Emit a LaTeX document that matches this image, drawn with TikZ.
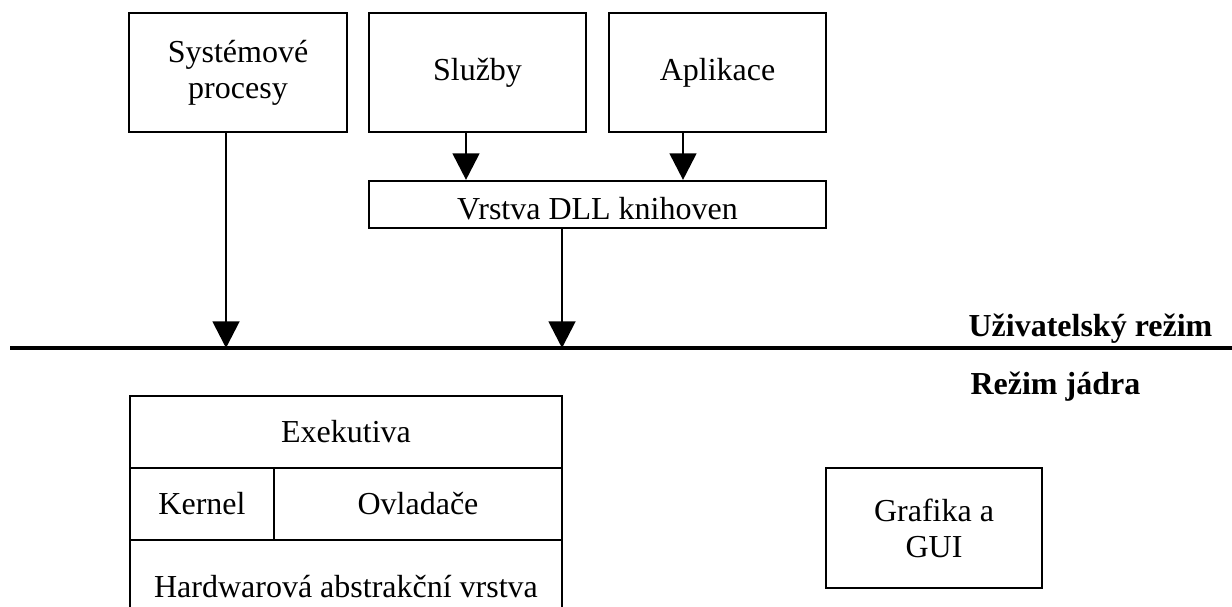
\documentclass[tikz,border=0pt]{standalone}
\usepackage{fontspec}
\setmainfont{Liberation Serif}
\usetikzlibrary{arrows.meta}

\begin{document}
\begin{tikzpicture}[x=0.375pt, y=-0.375pt,
  box/.style={draw, line width=0.8pt, inner sep=0pt, align=center,
    font=\fontsize{12}{13.5}\selectfont},
  arr/.style={line width=1.1pt, -{Triangle[width=10pt, length=10pt]}},
  mode/.style={font=\fontsize{12}{14}\selectfont\bfseries, inner sep=0pt, anchor=base west}]

\useasboundingbox (0,0) rectangle (1232,607);

% User mode boxes
\node[box, minimum width=81.75pt, minimum height=44.625pt] (sysproc) at (238,72.5) {Systémové\\procesy};
\node[box, minimum width=81.375pt, minimum height=44.625pt] (sluzby) at (477.5,72.5) {Služby};
\node[box, minimum width=81.375pt, minimum height=44.625pt] (aplikace) at (717.5,72.5) {Aplikace};
\node[box, minimum width=171.375pt, minimum height=17.625pt, text height=11.6pt, text depth=0pt] (dll) at (597.5,204.5) {Vrstva DLL knihoven};

% Kernel mode boxes
\node[box, minimum width=162pt, minimum height=27pt] (exek) at (346,432) {Exekutiva};
\node[box, minimum width=54pt, minimum height=27pt] (kernel) at (202,504) {Kernel};
\node[box, minimum width=108pt, minimum height=27pt] (ovladace) at (418,504) {Ovladače};
\node[box, minimum width=162pt, minimum height=34.875pt] (hal) at (346,586.5) {Hardwarová abstrakční vrstva};
\node[box, minimum width=81pt, minimum height=45pt] (grafika) at (934,528) {Grafika a\\GUI};

% Mode boundary
\coordinate (lineL) at (10,348);
\coordinate (lineR) at (1232,348);
\draw[line width=1.2pt] (lineL) -- (lineR);
\node[mode] (umode) at (968,337) {Uživatelský režim};
\node[mode] (kmode) at (970,395) {Režim jádra};

% Arrows
\coordinate (sa) at (466,0);
\coordinate (aa) at (683,0);
\coordinate (ua) at (226,348);
\coordinate (ub) at (562,348);
\draw[arr] (sluzby.south -| sa) -- (dll.north -| sa);
\draw[arr] (aplikace.south -| aa) -- (dll.north -| aa);
\draw[arr] (sysproc.south -| ua) -- (ua);
\draw[arr] (dll.south -| ub) -- (ub);

\end{tikzpicture}
\end{document}
